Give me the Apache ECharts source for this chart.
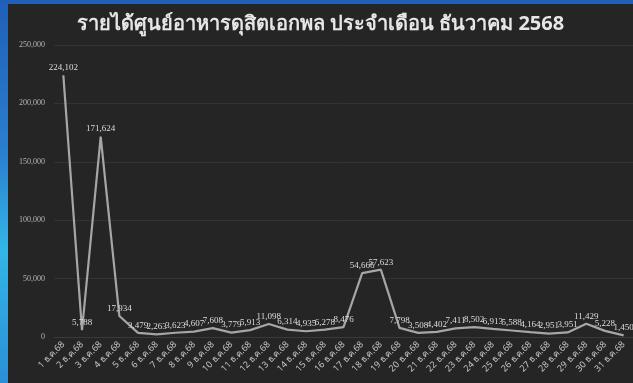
<!DOCTYPE html>
<html>
<head>
<meta charset="utf-8">
<script src="https://cdn.jsdelivr.net/npm/echarts@6/dist/echarts.min.js"></script>
<style>
  html, body { margin: 0; padding: 0; width: 633px; height: 383px; overflow: hidden; background: #1d5fb5; }
  #frame { position: absolute; left: 0; top: 0; width: 633px; height: 383px;
           background: linear-gradient(180deg, #1f5fb8 0%, #2a7fd0 40%, #33b6e6 65%, #2a8fd8 100%); }
  #chart { position: absolute; left: 8px; top: 4px; width: 625px; height: 379px; background: #252525; }
</style>
</head>
<body>
<div id="frame"></div>
<div id="chart"></div>
<script>
// Daily food-court revenue, December 2568 (B.E.)
const titleText = 'รายได้ศูนย์อาหารดุสิตเอกพล ประจำเดือน ธันวาคม 2568';
const days = [];
for (let d = 1; d <= 31; d++) days.push(d + ' ธ.ค.68');
const revenue = [
  224102, 5788, 171624, 17934, 3479, 2263, 3623, 4607, 7608, 3779,
  5913, 11098, 6314, 4935, 6278, 8476, 54666, 57623, 7798, 3508,
  4402, 7411, 8502, 6913, 5588, 4164, 2951, 3951, 11429, 5228, 1450
];
const yTicks = { min: 0, max: 250000, interval: 50000 };

const chart = echarts.init(document.getElementById('chart'), null, { renderer: 'canvas' });
chart.setOption({
  backgroundColor: '#252525',
  animation: false,
  title: {
    text: titleText,
    left: 'center',
    top: 5,
    textStyle: { color: '#e6e6e6', fontSize: 20, fontWeight: 'bold', fontFamily: 'Noto Sans, sans-serif' }
  },
  grid: { left: 46, right: 0, top: 41, bottom: 46, containLabel: false },
  xAxis: {
    type: 'category',
    data: days,
    boundaryGap: true,
    axisLine: { show: true, lineStyle: { color: '#3a3a3a' } },
    axisTick: { show: false },
    axisLabel: { interval: 0, rotate: 45, color: '#c4c4c4', fontSize: 9, margin: 6, fontFamily: 'Noto Sans, sans-serif' }
  },
  yAxis: {
    type: 'value',
    min: yTicks.min, max: yTicks.max, interval: yTicks.interval,
    axisLine: { show: false },
    axisTick: { show: false },
    splitLine: { lineStyle: { color: '#333333', width: 1 } },
    axisLabel: {
      color: '#b5b5b5', fontSize: 8, margin: 9, fontFamily: 'Liberation Serif, serif',
      formatter: v => v.toLocaleString('en-US')
    }
  },
  series: [{
    type: 'line',
    data: revenue,
    showSymbol: true,
    showAllSymbol: true,
    symbol: 'circle',
    symbolSize: 2,
    itemStyle: { color: 'rgba(166,166,166,0)' },
    lineStyle: { color: '#a6a6a6', width: 2.2 },
    label: {
      show: true, position: 'top', distance: 2,
      color: '#dddddd', fontSize: 9, fontFamily: 'Liberation Serif, serif',
      formatter: p => p.value.toLocaleString('en-US')
    },
    labelLayout: { hideOverlap: false }
  }]
});
</script>
</body>
</html>
